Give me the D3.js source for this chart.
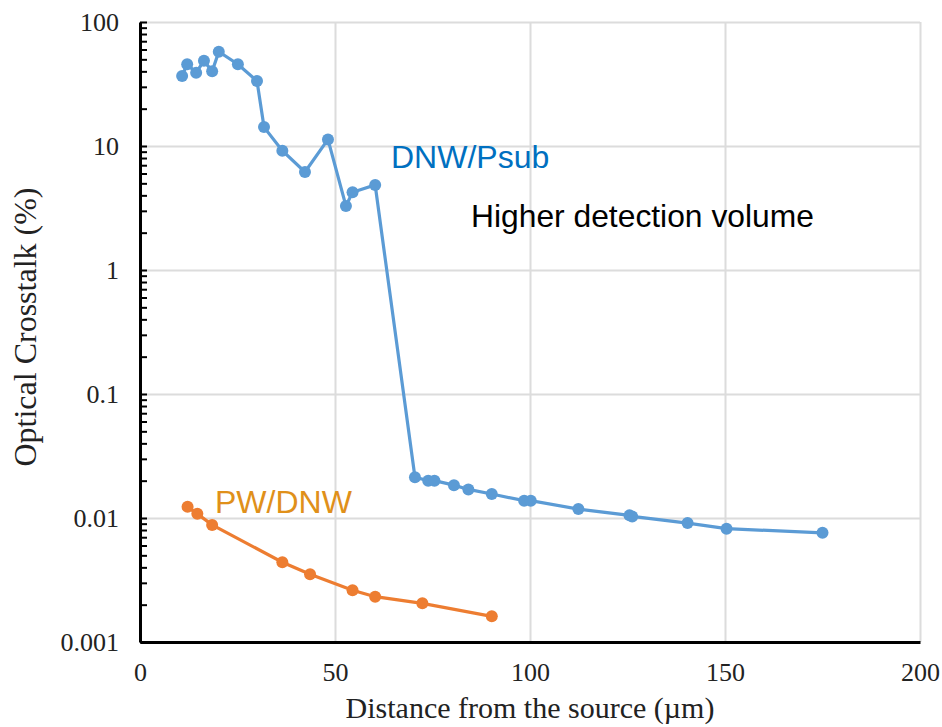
<!DOCTYPE html>
<html>
<head>
<meta charset="utf-8">
<script src="https://cdn.jsdelivr.net/npm/d3@7"></script>
<style>
  body { margin: 0; background: #fff; }
  svg { display: block; }
</style>
</head>
<body>
<svg width="942" height="727"></svg>
<script>
// distance (um) / optical crosstalk (%)
const dnwX = [10.8, 12.1, 14.4, 16.4, 18.5, 20.2, 25.1, 30.0, 31.8, 36.5, 42.3, 48.2, 52.8, 54.5, 60.3,
  70.5, 73.9, 75.5, 80.5, 84.2, 90.2, 98.5, 100.2, 112.4, 125.5, 126.2, 140.4, 150.4, 175.0];
const dnwY = [36.7, 45.6, 39.0, 48.7, 40.0, 57.6, 45.6, 33.4, 14.2, 9.16, 6.17, 11.3, 3.28, 4.24, 4.85,
  0.0213, 0.0200, 0.0200, 0.0184, 0.0170, 0.0156, 0.0138, 0.0138, 0.0118, 0.0105, 0.0103, 0.0091, 0.0082, 0.0076];

const pwX = [12.2, 14.7, 18.5, 36.5, 43.6, 54.5, 60.3, 72.4, 90.2];
const pwY = [0.0123, 0.0108, 0.0088, 0.0044, 0.00352, 0.00261, 0.00232, 0.00205, 0.00161];

const xTicks = [0, 50, 100, 150, 200];
const yTicks = [0.001, 0.01, 0.1, 1, 10, 100];
const yTickLabels = ['0.001', '0.01', '0.1', '1', '10', '100'];

let svg = d3.select('svg');
let width = 942, height = 727;
let margin = { left: 140, right: 22, top: 22, bottom: 85 };

let x = d3.scaleLinear().domain([0, 200]).range([margin.left, width - margin.right]);
let y = d3.scaleLog().domain([0.001, 100]).range([height - margin.bottom, margin.top]);

// grid
svg.append('g')
  .attr('transform', `translate(${margin.left},0)`)
  .call(d3.axisLeft(y).tickValues(yTicks.slice(1)).tickSize(-(width - margin.left - margin.right)).tickFormat(''))
  .call(g => g.select('.domain').remove())
  .selectAll('line').attr('stroke', '#dcdcdc').attr('stroke-width', 2);

svg.append('g')
  .attr('transform', `translate(0,${height - margin.bottom})`)
  .call(d3.axisBottom(x).tickValues(xTicks.slice(1)).tickSize(-(height - margin.top - margin.bottom)).tickFormat(''))
  .call(g => g.select('.domain').remove())
  .selectAll('line').attr('stroke', '#dcdcdc').attr('stroke-width', 2);

// series
let line = d3.line().x(d => x(d[0])).y(d => y(d[1]));

function drawSeries(xs, ys, color) {
  let pts = xs.map((v, i) => [v, ys[i]]);
  svg.append('path')
    .datum(pts)
    .attr('fill', 'none')
    .attr('stroke', color)
    .attr('stroke-width', 3.2)
    .attr('d', line);
  svg.append('g')
    .attr('fill', color)
    .selectAll('circle').data(pts).enter().append('circle')
    .attr('cx', d => x(d[0]))
    .attr('cy', d => y(d[1]))
    .attr('r', 6);
}

drawSeries(dnwX, dnwY, '#5b9bd5');
drawSeries(pwX, pwY, '#ed7d31');

// axes
let serif = '"Times New Roman", "Liberation Serif", serif';

let yAxis = d3.axisLeft(y)
  .tickValues(y.ticks())
  .tickSizeInner(-7)
  .tickSizeOuter(0)
  .tickPadding(21)
  .tickFormat(d => {
    let i = yTicks.findIndex(t => Math.abs(Math.log10(t) - Math.log10(d)) < 1e-6);
    return i >= 0 ? yTickLabels[i] : '';
  });

svg.append('g')
  .attr('transform', `translate(${margin.left},0)`)
  .call(yAxis)
  .call(g => g.select('.domain').attr('stroke', '#000').attr('stroke-width', 3))
  .call(g => g.selectAll('line').attr('stroke', '#000').attr('stroke-width', 2))
  .call(g => g.selectAll('text').attr('font-family', serif).attr('font-size', 26).attr('fill', '#222'));

let xAxis = d3.axisBottom(x)
  .tickValues(xTicks)
  .tickSize(0)
  .tickPadding(21);

svg.append('g')
  .attr('transform', `translate(0,${height - margin.bottom})`)
  .call(xAxis)
  .call(g => g.select('.domain').attr('stroke', '#000').attr('stroke-width', 3))
  .call(g => g.selectAll('text').attr('font-family', serif).attr('font-size', 26).attr('fill', '#222'));

// axis titles
svg.append('text')
  .attr('x', 530).attr('y', 718)
  .attr('text-anchor', 'middle')
  .attr('font-family', serif).attr('font-size', 30).attr('fill', '#222')
  .text('Distance from the source (µm)');

svg.append('text')
  .attr('transform', 'translate(36,327) rotate(-90)')
  .attr('text-anchor', 'middle')
  .attr('font-family', serif).attr('font-size', 32).attr('fill', '#222')
  .text('Optical Crosstalk (%)');

// annotations
let sans = 'Arial, "Liberation Sans", sans-serif';
svg.append('text')
  .attr('x', 391).attr('y', 168)
  .attr('font-family', sans).attr('font-size', 32).attr('fill', '#0070c0')
  .text('DNW/Psub');

svg.append('text')
  .attr('x', 471).attr('y', 227)
  .attr('font-family', sans).attr('font-size', 31.8).attr('fill', '#000')
  .text('Higher detection volume');

svg.append('text')
  .attr('x', 215).attr('y', 513)
  .attr('font-family', sans).attr('font-size', 32).attr('fill', '#e0901a')
  .text('PW/DNW');
</script>
</body>
</html>
